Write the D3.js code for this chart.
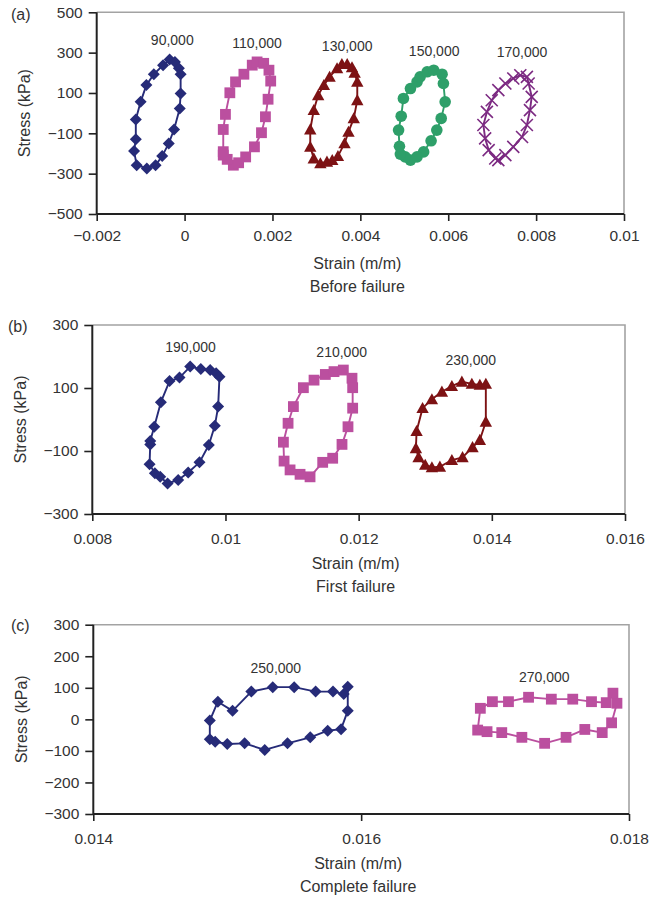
<!DOCTYPE html>
<html>
<head>
<meta charset="utf-8">
<script src="https://cdn.jsdelivr.net/npm/d3@7"></script>
<style>
  html, body { margin: 0; padding: 0; background: #fff; }
  svg { display: block; }
  text { font-family: "Liberation Sans", Arial, Helvetica, sans-serif; fill: #333; }
</style>
</head>
<body>
<div id="chart"></div>
<script>
// Stress–strain hysteresis loops at successive load cycles, [strain (m/m), stress (kPa)]

// (a) Before failure
const loop90000 = [[-0.00086,-274],[-0.00109,-258],[-0.00115,-188],[-0.00111,-130],[-0.00111,-31],[-0.00100,56],[-0.00087,139],[-0.00070,193],[-0.00049,238],[-0.00034,266],[-0.00022,254],[-0.00013,222],[-0.00009,193],[-0.00009,98],[-0.00011,23],[-0.00024,-81],[-0.00036,-150],[-0.00051,-213],[-0.00066,-258]];
const loop110000 = [[0.00111,-258],[0.00097,-229],[0.00088,-208],[0.00088,-191],[0.00088,-81],[0.00093,-6],[0.00103,101],[0.00116,155],[0.00135,193],[0.00154,238],[0.00165,254],[0.00180,247],[0.00192,213],[0.00196,159],[0.00190,69],[0.00184,-18],[0.00175,-97],[0.00159,-167],[0.00139,-217],[0.00123,-246]];
const loop130000 = [[0.00309,-249],[0.00294,-225],[0.00286,-167],[0.00286,-81],[0.00294,15],[0.00304,89],[0.00317,139],[0.00330,180],[0.00347,222],[0.00358,243],[0.00370,243],[0.00381,227],[0.00387,200],[0.00393,155],[0.00393,64],[0.00385,-26],[0.00373,-93],[0.00364,-150],[0.00349,-213],[0.00336,-233],[0.00324,-241]];
const loop150000 = [[0.00514,-233],[0.00502,-217],[0.00491,-203],[0.00489,-164],[0.00487,-84],[0.00493,-15],[0.00498,73],[0.00514,122],[0.00529,155],[0.00536,180],[0.00552,205],[0.00567,213],[0.00586,193],[0.00589,147],[0.00593,56],[0.00584,-26],[0.00574,-84],[0.00561,-137],[0.00544,-192],[0.00529,-217]];
const loop170000 = [[0.00714,-233],[0.00707,-225],[0.00692,-183],[0.00684,-125],[0.00680,-59],[0.00688,6],[0.00699,64],[0.00714,114],[0.00730,147],[0.00748,172],[0.00764,188],[0.00779,180],[0.00783,147],[0.00790,81],[0.00786,15],[0.00779,-59],[0.00768,-118],[0.00748,-167],[0.00730,-208]];

// (b) First failure
const loop190000 = [[0.00913,-203],[0.00902,-182],[0.00894,-171],[0.00886,-142],[0.00887,-79],[0.00887,-68],[0.00893,-23],[0.00903,55],[0.00916,122],[0.00931,133],[0.00947,168],[0.00963,160],[0.00977,157],[0.00986,147],[0.00991,136],[0.00989,41],[0.00984,-20],[0.00975,-81],[0.00961,-136],[0.00944,-168],[0.00929,-192]];
const loop210000 = [[0.01127,-182],[0.01112,-174],[0.01097,-160],[0.01088,-132],[0.01087,-72],[0.01094,-12],[0.01102,41],[0.01117,101],[0.01133,125],[0.01150,143],[0.01163,152],[0.01177,157],[0.01190,131],[0.01191,101],[0.01191,36],[0.01184,-23],[0.01175,-79],[0.01161,-123],[0.01146,-136]];
const loop230000 = [[0.01310,-152],[0.01300,-144],[0.01290,-120],[0.01286,-91],[0.01287,-37],[0.01296,36],[0.01310,64],[0.01325,88],[0.01340,106],[0.01355,120],[0.01370,113],[0.01382,110],[0.01391,113],[0.01391,-7],[0.01382,-65],[0.01371,-88],[0.01356,-120],[0.01340,-129],[0.01322,-150]];

// (c) Complete failure
const loop250000 = [[0.01590,103],[0.01587,80],[0.01579,88],[0.01566,88],[0.01550,102],[0.01534,102],[0.01518,88],[0.01504,27],[0.01493,56],[0.01487,-4],[0.01487,-63],[0.01491,-71],[0.01500,-78],[0.01513,-76],[0.01528,-97],[0.01545,-76],[0.01562,-57],[0.01575,-36],[0.01585,-31],[0.01590,27]];
const loop270000 = [[0.01687,-34],[0.01694,-39],[0.01705,-42],[0.01720,-57],[0.01737,-76],[0.01753,-57],[0.01767,-32],[0.01780,-42],[0.01787,-11],[0.01791,51],[0.01788,83],[0.01783,53],[0.01772,56],[0.01758,64],[0.01742,64],[0.01725,70],[0.01710,56],[0.01698,56],[0.01689,35]];

// Cycle labels and where they sit, [strain, stress]
const cycleNamesA = ["90,000", "110,000", "130,000", "150,000", "170,000"];
const cycleSpotsA = [[-0.00028,362],[0.00165,349],[0.0037,334],[0.00568,309],[0.00768,301]];
const cycleNamesB = ["190,000", "210,000", "230,000"];
const cycleSpotsB = [[0.009475,229],[0.011745,215],[0.013684,189]];
const cycleNamesC = ["250,000", "270,000"];
const cycleSpotsC = [[0.015363,162],[0.017367,135]];

// Axis ticks
const xTicksA = [-0.002, 0, 0.002, 0.004, 0.006, 0.008, 0.01];
const xTickLabelsA = ["\u22120.002", "0", "0.002", "0.004", "0.006", "0.008", "0.01"];
const yTicksA = [500, 300, 100, -100, -300, -500];
const yTickLabelsA = ["500", "300", "100", "\u2212100", "\u2212300", "\u2212500"];
const xTicksB = [0.008, 0.01, 0.012, 0.014, 0.016];
const xTickLabelsB = ["0.008", "0.01", "0.012", "0.014", "0.016"];
const yTicksB = [300, 100, -100, -300];
const yTickLabelsB = ["300", "100", "\u2212100", "\u2212300"];
const xTicksC = [0.014, 0.016, 0.018];
const xTickLabelsC = ["0.014", "0.016", "0.018"];
const yTicksC = [300, 200, 100, 0, -100, -200, -300];
const yTickLabelsC = ["300", "200", "100", "0", "\u2212100", "\u2212200", "\u2212300"];

const panelLetters = ["(a)", "(b)", "(c)"];
const panelCaptions = ["Before failure", "First failure", "Complete failure"];

// Series styling
const NAVY = "#262b78", PINK = "#bb4f9f", RED = "#7d1214", GREEN = "#2e9f69", PURPLE = "#7c2a82";

const panels = [
  {
    box: { left: 96.7, right: 624, top: 12.3, bottom: 214 },
    xDomain: [-0.002, 0.01], yDomain: [-500, 500],
    xTicks: xTicksA, xLabels: xTickLabelsA, yTicks: yTicksA, yLabels: yTickLabelsA,
    loops: [
      { pts: loop90000, color: NAVY, marker: "diamond" },
      { pts: loop110000, color: PINK, marker: "square" },
      { pts: loop130000, color: RED, marker: "triangle" },
      { pts: loop150000, color: GREEN, marker: "circle" },
      { pts: loop170000, color: PURPLE, marker: "cross" }
    ],
    names: cycleNamesA, spots: cycleSpotsA,
    letterY: 14, xLabelGap: 21, yTitleX: 24
  },
  {
    box: { left: 92.3, right: 625, top: 325, bottom: 514 },
    xDomain: [0.008, 0.016], yDomain: [-300, 300],
    xTicks: xTicksB, xLabels: xTickLabelsB, yTicks: yTicksB, yLabels: yTickLabelsB,
    loops: [
      { pts: loop190000, color: NAVY, marker: "diamond" },
      { pts: loop210000, color: PINK, marker: "square" },
      { pts: loop230000, color: RED, marker: "triangle" }
    ],
    names: cycleNamesB, spots: cycleSpotsB,
    letterY: 326.7, xLabelGap: 24, yTitleX: 20
  },
  {
    box: { left: 93.3, right: 629, top: 624.7, bottom: 814 },
    xDomain: [0.014, 0.018], yDomain: [-300, 300],
    xTicks: xTicksC, xLabels: xTickLabelsC, yTicks: yTicksC, yLabels: yTickLabelsC,
    loops: [
      { pts: loop250000, color: NAVY, marker: "diamond" },
      { pts: loop270000, color: PINK, marker: "square" }
    ],
    names: cycleNamesC, spots: cycleSpotsC,
    letterY: 625.7, xLabelGap: 24, yTitleX: 21
  }
];

const svg = d3.select("#chart").append("svg")
  .attr("width", 651).attr("height", 898)
  .attr("viewBox", "0 0 651 898");

function drawMarker(g, type, color, x, y) {
  if (type === "diamond") {
    const s = 6;
    g.append("path").attr("d", `M${x},${y - s}L${x + s},${y}L${x},${y + s}L${x - s},${y}Z`).attr("fill", color);
  } else if (type === "square") {
    const s = 5.4;
    g.append("rect").attr("x", x - s).attr("y", y - s).attr("width", 2 * s).attr("height", 2 * s).attr("fill", color);
  } else if (type === "triangle") {
    const s = 6.2;
    g.append("path").attr("d", `M${x},${y - s}L${x + s},${y + s * 0.8}L${x - s},${y + s * 0.8}Z`).attr("fill", color);
  } else if (type === "circle") {
    g.append("circle").attr("cx", x).attr("cy", y).attr("r", 5.8).attr("fill", color);
  } else if (type === "cross") {
    const s = 6;
    g.append("path").attr("d", `M${x - s},${y - s}L${x + s},${y + s}M${x - s},${y + s}L${x + s},${y - s}`)
      .attr("stroke", color).attr("stroke-width", 1.6).attr("fill", "none");
  }
}

panels.forEach((p, i) => {
  const b = p.box;
  const x = d3.scaleLinear().domain(p.xDomain).range([b.left, b.right]);
  const y = d3.scaleLinear().domain(p.yDomain).range([b.bottom, b.top]);
  const g = svg.append("g");

  // light frame on top and right
  g.append("path")
    .attr("d", `M${b.left},${b.top}H${b.right}V${b.bottom}`)
    .attr("fill", "none").attr("stroke", "#a3a3a3").attr("stroke-width", 1.6);

  // y axis
  const yAxis = d3.axisLeft(y).tickValues(p.yTicks)
    .tickFormat((d, k) => p.yLabels[k]).tickSize(8).tickPadding(6);
  const ya = g.append("g").attr("transform", `translate(${b.left},0)`).call(yAxis);
  ya.select(".domain").attr("stroke", "#222").attr("stroke-width", 2).attr("d", `M0,${b.top}V${b.bottom}`);
  ya.selectAll(".tick line").attr("stroke", "#222").attr("stroke-width", 1.6);
  ya.selectAll(".tick text").attr("font-size", 15.5).attr("fill", "#333")
    .attr("font-family", "Liberation Sans, Arial, sans-serif");

  // x axis
  const xAxis = d3.axisBottom(x).tickValues(p.xTicks)
    .tickFormat((d, k) => p.xLabels[k]).tickSize(7).tickPadding(p.xLabelGap - 7 - 11);
  const xa = g.append("g").attr("transform", `translate(0,${b.bottom})`).call(xAxis);
  xa.select(".domain").attr("stroke", "#222").attr("stroke-width", 2).attr("d", `M${b.left},0H${b.right}`);
  xa.selectAll(".tick line").attr("stroke", "#222").attr("stroke-width", 1.6);
  xa.selectAll(".tick text").attr("font-size", 15.5).attr("fill", "#333")
    .attr("font-family", "Liberation Sans, Arial, sans-serif")
    .attr("dy", null).attr("y", p.xLabelGap).attr("dominant-baseline", "central");

  // loops
  const line = d3.line().x(d => x(d[0])).y(d => y(d[1]));
  p.loops.forEach(L => {
    g.append("path").datum(L.pts.concat([L.pts[0]]))
      .attr("d", line).attr("fill", "none")
      .attr("stroke", L.color).attr("stroke-width", 1.9).attr("stroke-linejoin", "round");
    const mg = g.append("g");
    L.pts.forEach(d => drawMarker(mg, L.marker, L.color, x(d[0]), y(d[1])));
  });

  // cycle labels
  p.names.forEach((name, k) => {
    g.append("text")
      .attr("x", x(p.spots[k][0])).attr("y", y(p.spots[k][1]))
      .attr("text-anchor", "middle").attr("dominant-baseline", "central")
      .attr("font-size", 14).text(name);
  });

  // axis titles
  const cx = (b.left + b.right) / 2 - 3;
  g.append("text").attr("x", cx).attr("y", b.bottom + 49)
    .attr("text-anchor", "middle").attr("dominant-baseline", "central")
    .attr("font-size", 16).text("Strain (m/m)");
  g.append("text").attr("x", cx).attr("y", b.bottom + 72)
    .attr("text-anchor", "middle").attr("dominant-baseline", "central")
    .attr("font-size", 16).text(panelCaptions[i]);
  g.append("text")
    .attr("transform", `translate(${p.yTitleX},${(b.top + b.bottom) / 2}) rotate(-90)`)
    .attr("text-anchor", "middle").attr("dominant-baseline", "central")
    .attr("font-size", 16).text("Stress (kPa)");

  // panel letter
  g.append("text").attr("x", 8 + (i === 0 ? 3 : i === 2 ? 3 : 0)).attr("y", p.letterY)
    .attr("dominant-baseline", "central").attr("font-size", 16).text(panelLetters[i]);
});
</script>
</body>
</html>
